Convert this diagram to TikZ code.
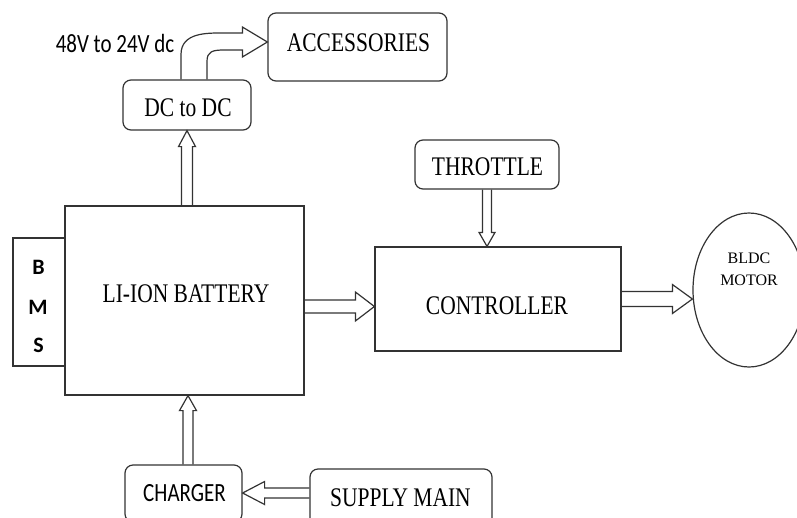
\documentclass[tikz,border=0pt]{standalone}
\usepackage{fontspec}
\setmainfont{Liberation Serif}
\newfontfamily\calfont{Carlito}
\usetikzlibrary{calc,shapes.geometric}
\newcommand{\vst}[1]{\scalebox{1}[1.25]{#1}}
\newcommand{\barrow}[5]{%
  \coordinate (bA) at (#1); \coordinate (bB) at (#2);
  \coordinate (bH) at ($(bB)!#5!(bA)$);
  \draw[ln] ($(bA)!#3!90:(bB)$) -- ($(bH)!#3!90:(bB)$) -- ($(bH)!#4!90:(bB)$) -- (bB)
    -- ($(bH)!#4!-90:(bB)$) -- ($(bH)!#3!-90:(bB)$) -- ($(bA)!#3!-90:(bB)$);}
\tikzset{
  ln/.style={line width=1.2pt, draw=black!80, line join=miter},
  rbox/.style={draw=black!80, line width=1.2pt, rounded corners=8pt, inner sep=0pt},
  sbox/.style={draw=black!80, line width=1.2pt, inner sep=0pt},
  tx/.style={font=\fontsize{21.5}{25}\selectfont, text=black, inner sep=0pt},
  sx/.style={font=\calfont\fontsize{21}{25}\selectfont, text=black, inner sep=0pt},
}
\begin{document}
\begin{tikzpicture}[x=1pt,y=-1pt]
\useasboundingbox (0,0) rectangle (797,517);
% boxes
\node[rbox, minimum width=179, minimum height=68] (acc) at (357.5,47) {};
\node[rbox, minimum width=128, minimum height=50] (dc) at (187,105) {};
\node[rbox, minimum width=144, minimum height=49] (thr) at (487,164.5) {};
\node[sbox, minimum width=246, minimum height=104] (ctrl) at (498,299) {};
\node[sbox, minimum width=52, minimum height=128] (bms) at (39,302) {};
\node[sbox, minimum width=239, minimum height=189] (batt) at (184.5,300.5) {};
\node[rbox, minimum width=117, minimum height=57] (charger) at (183.5,493.5) {};
\node[rbox, minimum width=182, minimum height=57] (supply) at (401,497.5) {};
\node[draw=black!80, line width=1.2pt, ellipse, inner sep=0pt, minimum width=112, minimum height=154] (motor) at (749,290) {};
% texts
\node[tx] at (358.5,42.5) {\vst{ACCESSORIES}};
\node[tx] at (188,107.5) {\vst{DC to DC}};
\node[tx] at (487.5,167) {\vst{THROTTLE}};
\node[tx] at (497,306) {\vst{CONTROLLER}};
\node[tx] at (186,294) {\vst{LI-ION BATTERY}};
\node[sx] at (184.5,493.5) {\vst{CHARGER}};
\node[tx] at (400.5,497.5) {\vst{SUPPLY MAIN}};
\node[sx] at (115,43) {\vst{48V to 24V dc}};
\node[sx, font=\calfont\bfseries\fontsize{22}{25}\selectfont] at (38.5,267.5) {B};
\node[sx, font=\calfont\bfseries\fontsize{22}{25}\selectfont] at (38,307) {M};
\node[sx, font=\calfont\bfseries\fontsize{22}{25}\selectfont] at (38.5,345.5) {S};
\node[tx, font=\fontsize{16}{22}\selectfont, align=center] at (749,269) {BLDC\\MOTOR};
% arrows
\barrow{dc.south |- batt.north}{dc.south}{5.5pt}{8.5pt}{16pt}
\coordinate (cs) at ($(charger.north)+(4.5,0)$);
\barrow{cs}{cs |- batt.south}{5pt}{8.5pt}{15pt}
\coordinate (bs) at ($(batt.east)+(0,6)$);
\barrow{bs}{bs -| ctrl.west}{6.5pt}{14.5pt}{19pt}
\barrow{thr.south}{thr.south |- ctrl.north}{4.5pt}{8pt}{14pt}
\barrow{ctrl.east}{ctrl.east -| motor.west}{7.5pt}{14.5pt}{20pt}
\coordinate (ss) at ($(supply.west)+(0,-4.5)$);
\barrow{ss}{ss -| charger.east}{5pt}{11.5pt}{22pt}
% curved arrow DC to DC -> accessories
\coordinate (o1) at ($(dc.north)+(-6,0)$);
\coordinate (i1) at ($(dc.north)+(20,0)$);
\coordinate (tip) at ($(acc.west)+(0,-5)$);
\draw[ln] (o1) -- ($(o1)+(0,-25)$) .. controls ($(o1)+(0,-47)$) and ($(tip)+(-60,-9)$) .. ($(tip)+(-45,-9)$)
  -- ($(tip)+(-25,-9)$) -- ($(tip)+(-25,-15)$) -- (tip) -- ($(tip)+(-25,15)$) -- ($(tip)+(-25,8)$)
  -- ($(tip)+(-43,8)$) .. controls ($(tip)+(-55,8)$) and ($(i1)+(0,-28)$) .. ($(i1)+(0,-18)$) -- (i1);
\end{tikzpicture}
\end{document}
